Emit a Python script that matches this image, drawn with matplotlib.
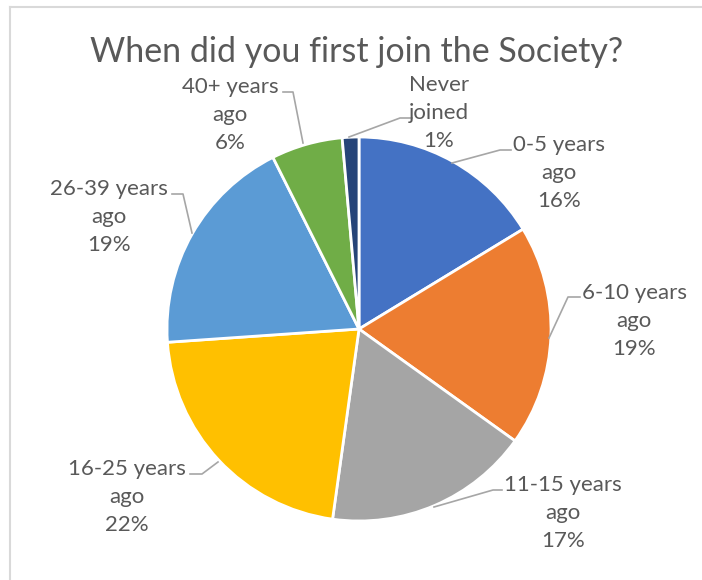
import matplotlib.pyplot as plt
from matplotlib.lines import Line2D

labels = ['0-5 years\nago', '6-10 years\nago', '11-15 years\nago', '16-25 years\nago',
          '26-39 years\nago', '40+ years\nago', 'Never\njoined']
values = [16.3, 18.6, 17.3, 21.7, 18.7, 6.0, 1.4]
colors = ['#4472C4', '#ED7D31', '#A5A5A5', '#FFC000', '#5B9BD5', '#70AD47', '#264478']

# label centres and leader lines, in pixels of the 702x580 picture
label_px = [(559, 173), (634, 321), (563, 513), (127, 497), (109, 217), (230, 115), (439, 113)]
leader_px = [
    [(452, 163), (500, 150), (511, 150)],
    [(549, 338), (568, 297), (580, 297)],
    [(434, 507), (493, 490), (502, 490)],
    [(218, 462), (202, 474), (190, 474)],
    [(192, 233), (183, 194), (172, 194)],
    [(303, 143), (293, 92), (283, 92)],
    [(349, 137), (400, 118), (412, 118)],
]

W, H = 702, 580
cx, cy, R = 359, 329, 192

plt.rcParams['font.family'] = ['Lato', 'DejaVu Sans']
fig = plt.figure(figsize=(W / 100, H / 100), dpi=100)
ax = fig.add_axes([(cx - R) / W, (H - cy - R) / H, 2 * R / W, 2 * R / H])

ax.pie(values, colors=colors, startangle=90, counterclock=False, radius=1,
       wedgeprops=dict(edgecolor='white', linewidth=2))
ax.set_xlim(-1, 1)
ax.set_ylim(-1, 1)
ax.set_aspect('equal')
ax.axis('off')


def to_data(p):
    return (p[0] - cx) / R, (cy - p[1]) / R


for lab, v, pos, pts in zip(labels, values, label_px, leader_px):
    x, y = to_data(pos)
    ax.text(x, y, '%s\n%d%%' % (lab, round(v)), ha='center', va='center',
            fontsize=16, color='#595959', linespacing=1.5, clip_on=False)
    xs = [to_data(p)[0] for p in pts]
    ys = [to_data(p)[1] for p in pts]
    ax.plot(xs, ys, color='#A6A6A6', lw=1.2, clip_on=False)

fig.text(357 / W, 1 - 52 / H, 'When did you first join the Society?', ha='center', va='center',
         fontsize=24.5, color='#595959')

# chart frame (top and left edge visible)
fig.add_artist(Line2D([10 / W, 1], [1 - 7 / H, 1 - 7 / H], color='#D9D9D9', lw=1.5))
fig.add_artist(Line2D([10 / W, 10 / W], [0, 1 - 7 / H], color='#D9D9D9', lw=1.5))

fig.savefig('out.png', dpi=100, facecolor='white')
